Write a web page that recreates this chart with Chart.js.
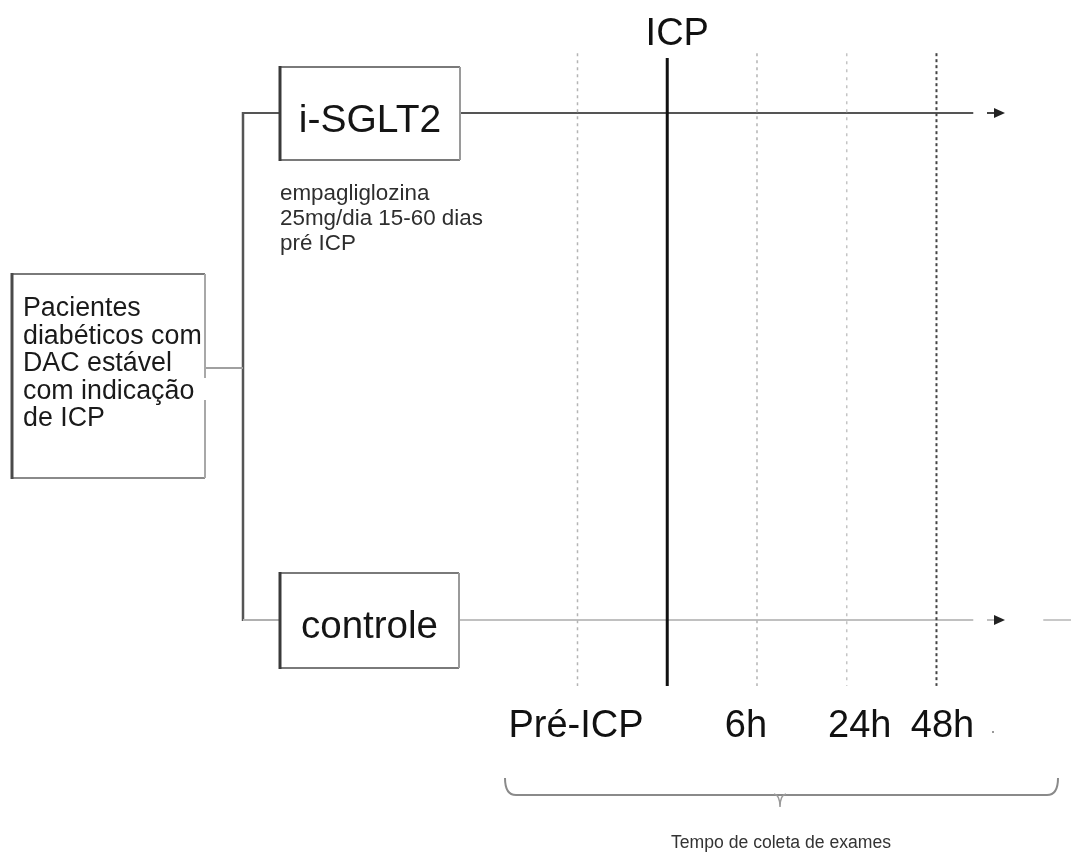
<!DOCTYPE html>
<html>
<head>
<meta charset="utf-8">
<script src="https://cdn.jsdelivr.net/npm/chart.js@4.4.0/dist/chart.umd.min.js"></script>
<style>
  html, body { margin: 0; padding: 0; background: #fff; }
  #wrap { width: 1071px; height: 852px; }
</style>
</head>
<body>
<div id="wrap"><canvas id="diagram" width="1071" height="852"></canvas></div>
<script>
// --- Data ---
const timePoints = ['Pré-ICP', 'ICP', '6h', '24h', '48h'];
const timeIndex = [0, 1, 2, 3, 4];          // evenly spaced collection moments
const armNames = ['i-SGLT2', 'controle'];
const armRows = [1, 0];                      // 1 = upper arm, 0 = lower arm
const populationText = ['Pacientes', 'diabéticos com', 'DAC estável', 'com indicação', 'de ICP'];
const interventionNote = ['empagliglozina', '25mg/dia 15-60 dias', 'pré ICP'];
const timelineCaption = 'Tempo de coleta de exames';

// --- Layout (scale units: x = time step, y = arm row) ---
const X_MIN = -6.435, X_MAX = 5.499;
const Y_MIN = -0.4576, Y_MAX = 1.2229;
const lineTop = [1.118, 1.1085, 1.118, 1.118, 1.118];
const lineBottom = -0.13;
const armStart = -1.31, armEnd = 4.41;
const tailStart = 5.19;
const lineStyles = [
    { color: '#b4b4b4', width: 1.5, dash: [3, 4] },
    { color: '#111111', width: 3, dash: [] },
    { color: '#b4b4b4', width: 1.5, dash: [3, 4] },
    { color: '#c4c4c4', width: 1.5, dash: [3, 5] },
    { color: '#444444', width: 2, dash: [3, 3] }
];
const armStyles = [
    { color: '#555555', width: 2 },
    { color: '#c0c0c0', width: 2 }
];
const labelShift = [-1.5, 10, -11, 13, 6];   // px offset of each label from its line

const FONT = '"Liberation Sans", Arial, sans-serif';

// --- Datasets built from the arrays above ---
const datasets = [];
timeIndex.forEach((t, i) => {
    datasets.push({
        label: timePoints[i],
        data: [{ x: t, y: lineTop[i] }, { x: t, y: lineBottom }],
        borderColor: lineStyles[i].color,
        borderWidth: lineStyles[i].width,
        borderDash: lineStyles[i].dash,
        showLine: true,
        pointRadius: 0
    });
});
armRows.forEach((row, i) => {
    datasets.push({
        label: armNames[i],
        data: [{ x: armStart, y: row }, { x: armEnd, y: row }],
        borderColor: armStyles[i].color,
        borderWidth: armStyles[i].width,
        showLine: true,
        pointRadius: 0
    });
});
// lower arm continues past the arrow
datasets.push({
    label: 'controle (cont.)',
    data: [{ x: tailStart, y: armRows[1] }, { x: X_MAX, y: armRows[1] }],
    borderColor: '#c8c8c8',
    borderWidth: 2,
    showLine: true,
    pointRadius: 0
});

// --- Helper: line segment ---
function seg(ctx, x1, y1, x2, y2, color, width) {
    ctx.beginPath();
    ctx.strokeStyle = color;
    ctx.lineWidth = width;
    ctx.moveTo(x1, y1);
    ctx.lineTo(x2, y2);
    ctx.stroke();
}

function drawBox(ctx, b) {
    ctx.fillStyle = '#fff';
    ctx.fillRect(b.x, b.y, b.w, b.h);
    seg(ctx, b.x, b.y, b.x + b.w, b.y, '#7a7a7a', 2);
    seg(ctx, b.x, b.y + b.h, b.x + b.w, b.y + b.h, '#7a7a7a', 2);
    seg(ctx, b.x + b.w, b.y, b.x + b.w, b.y + b.h, '#9a9a9a', 2);
    seg(ctx, b.x, b.y - 1, b.x, b.y + b.h + 1, '#3a3a3a', 3);
}

function arrow(ctx, x, y, shaftColor) {
    seg(ctx, x, y, x + 10, y, shaftColor, 2);
    ctx.beginPath();
    ctx.fillStyle = '#222';
    ctx.moveTo(x + 7, y - 5);
    ctx.lineTo(x + 18, y);
    ctx.lineTo(x + 7, y + 5);
    ctx.closePath();
    ctx.fill();
}

const diagramPlugin = {
    id: 'diagram',
    beforeDatasetsDraw(chart) {
        const ctx = chart.ctx;
        const ys = chart.scales.y;
        const topY = ys.getPixelForValue(armRows[0]);
        const botY = ys.getPixelForValue(armRows[1]);
        ctx.save();
        // trunk and connectors
        seg(ctx, 243, topY - 1, 243, botY + 1, '#555', 2.5);
        seg(ctx, 243, topY, 280, topY, '#555', 2);
        seg(ctx, 243, botY, 280, botY, '#b0b0b0', 2);
        seg(ctx, 205, 368, 243, 368, '#a0a0a0', 2);
        ctx.restore();
    },
    afterDatasetsDraw(chart) {
        const ctx = chart.ctx;
        const xs = chart.scales.x;
        const ys = chart.scales.y;
        ctx.save();

        // population box (right border broken where connector leaves)
        const pop = { x: 12, y: 274, w: 193, h: 204 };
        ctx.fillStyle = '#fff';
        ctx.fillRect(pop.x, pop.y, pop.w, pop.h);
        seg(ctx, pop.x, pop.y, pop.x + pop.w, pop.y, '#7a7a7a', 2);
        seg(ctx, pop.x, pop.y + pop.h, pop.x + pop.w, pop.y + pop.h, '#8a8a8a', 2);
        seg(ctx, pop.x + pop.w, pop.y, pop.x + pop.w, 378, '#a8a8a8', 2);
        seg(ctx, pop.x + pop.w, 400, pop.x + pop.w, pop.y + pop.h, '#a8a8a8', 2);
        seg(ctx, pop.x, pop.y - 1, pop.x, pop.y + pop.h + 1, '#4a4a4a', 3);
        ctx.fillStyle = '#1a1a1a';
        ctx.font = `26.8px ${FONT}`;
        ctx.textAlign = 'left';
        ctx.textBaseline = 'alphabetic';
        populationText.forEach((t, i) => ctx.fillText(t, 23, 316 + i * 27.5));

        // arm boxes
        const armBoxes = [{ x: 280, y: 67, w: 180, h: 93 }, { x: 280, y: 573, w: 179, h: 95 }];
        const armBase = [132, 638];
        const armFont = [39, 38.5];
        armBoxes.forEach((b, i) => {
            drawBox(ctx, b);
            ctx.fillStyle = '#151515';
            ctx.font = `${armFont[i]}px ${FONT}`;
            ctx.textAlign = 'center';
            ctx.fillText(armNames[i], b.x + b.w / 2, armBase[i]);
        });

        // intervention note
        ctx.fillStyle = '#2e2e2e';
        ctx.font = `22.4px ${FONT}`;
        ctx.textAlign = 'left';
        interventionNote.forEach((t, i) => ctx.fillText(t, 280, 200 + i * 25));

        // arrows at the end of the arms
        arrow(ctx, 987, ys.getPixelForValue(armRows[0]), '#444');
        arrow(ctx, 987, ys.getPixelForValue(armRows[1]), '#c0c0c0');

        // time labels
        ctx.fillStyle = '#111';
        ctx.textAlign = 'center';
        ctx.font = `38px ${FONT}`;
        timeIndex.forEach((t, i) => {
            const px = xs.getPixelForValue(t) + labelShift[i];
            ctx.fillText(timePoints[i], px, timePoints[i] === 'ICP' ? 45 : 737);
        });
        ctx.fillStyle = '#999';
        ctx.fillRect(992, 731, 2, 2);

        // brace under the timeline
        ctx.beginPath();
        ctx.strokeStyle = '#8a8a8a';
        ctx.lineWidth = 2;
        ctx.moveTo(505, 778);
        ctx.quadraticCurveTo(505, 795, 516, 795);
        ctx.lineTo(1047, 795);
        ctx.quadraticCurveTo(1058, 795, 1058, 778);
        ctx.stroke();
        ctx.beginPath();
        ctx.strokeStyle = '#9a9a9a';
        ctx.lineWidth = 1.5;
        ctx.moveTo(774, 794);
        ctx.quadraticCurveTo(780, 795, 780, 807);
        ctx.moveTo(786, 794);
        ctx.quadraticCurveTo(780, 795, 780, 807);
        ctx.stroke();

        ctx.fillStyle = '#333';
        ctx.font = `17.6px ${FONT}`;
        ctx.fillText(timelineCaption, 781, 848);
        ctx.restore();
    }
};

new Chart(document.getElementById('diagram').getContext('2d'), {
    type: 'scatter',
    data: { datasets: datasets },
    options: {
        responsive: false,
        animation: false,
        layout: { padding: 0 },
        plugins: { legend: { display: false }, tooltip: { enabled: false } },
        elements: { line: { tension: 0, borderCapStyle: 'butt' } },
        scales: {
            x: { type: 'linear', min: X_MIN, max: X_MAX, display: false },
            y: { type: 'linear', min: Y_MIN, max: Y_MAX, display: false }
        }
    },
    plugins: [diagramPlugin]
});
</script>
</body>
</html>
